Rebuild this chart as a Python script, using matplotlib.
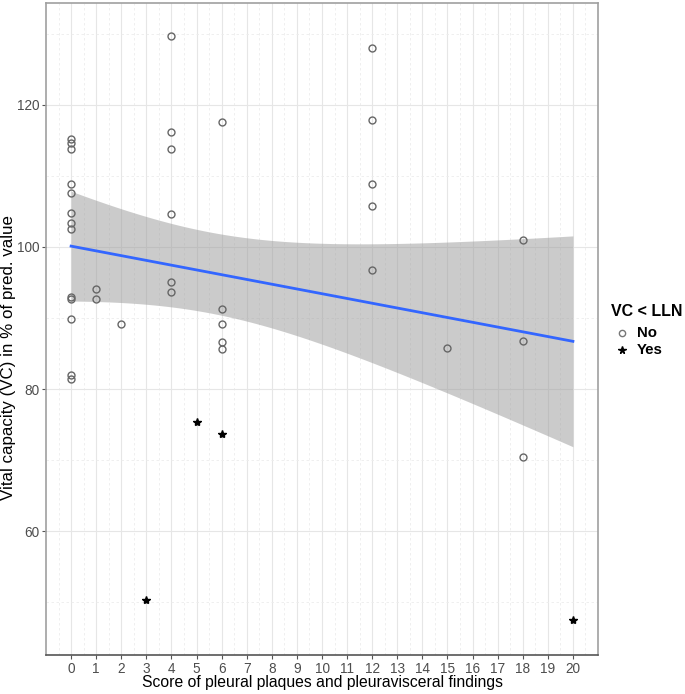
import numpy as np
import matplotlib.pyplot as plt
from matplotlib.lines import Line2D

plt.rcParams['font.family'] = ['Liberation Sans', 'DejaVu Sans']

# score vs vital capacity, VC < LLN = No
score_no = [0, 0, 0, 0, 0, 0, 0, 0, 0, 0, 0, 0, 0,
            1, 1, 2,
            4, 4, 4, 4, 4, 4,
            6, 6, 6, 6, 6,
            12, 12, 12, 12, 12,
            15, 18, 18, 18]
vc_no = [115.2, 114.6, 113.8, 108.8, 107.6, 104.7, 103.3, 102.5, 93.0, 92.7, 89.9, 82.0, 81.4,
         94.1, 92.6, 89.2,
         129.6, 116.1, 113.7, 104.6, 95.1, 93.6,
         117.6, 91.2, 89.2, 86.6, 85.6,
         128.0, 117.8, 108.8, 105.8, 96.7,
         85.8, 101.0, 86.7, 70.5]

# VC < LLN = Yes
score_yes = [3, 5, 6, 20]
vc_yes = [50.4, 75.3, 73.7, 47.5]

legend_labels = ['No', 'Yes']

x_all = np.array(score_no + score_yes, dtype=float)
y_all = np.array(vc_no + vc_yes, dtype=float)

# linear fit with 95% confidence band (like geom_smooth(method='lm'))
n = len(x_all)
b1, b0 = np.polyfit(x_all, y_all, 1)
resid = y_all - (b0 + b1 * x_all)
s = np.sqrt(np.sum(resid**2) / (n - 2))
xm = x_all.mean()
sxx = np.sum((x_all - xm)**2)
t_crit = 2.024
xg = np.linspace(x_all.min(), x_all.max(), 80)
yg = b0 + b1 * xg
se = s * np.sqrt(1.0 / n + (xg - xm)**2 / sxx)

W, H = 685, 694
fig = plt.figure(figsize=(W / 100, H / 100), dpi=100)
ax = fig.add_axes([46 / W, 1 - 655 / H, 552 / W, 652 / H])

ax.fill_between(xg, yg - t_crit * se, yg + t_crit * se, color='#999999', alpha=0.5, lw=0, zorder=2)
ax.plot(xg, yg, color='#3366FF', lw=2, zorder=3)

ax.plot(score_no, vc_no, 'o', ms=5, mfc='none', mec='#666666', mew=1.0, zorder=4)
ax.plot(score_yes, vc_yes, '*', ms=6, color='black', zorder=4)

ax.set_xlim(-1, 21)
ax.set_ylim(42.6, 134.3)
ax.set_xticks(range(0, 21))
ax.set_yticks([60, 80, 100, 120])
ax.set_xticks(np.arange(-0.5, 21, 1), minor=True)
ax.set_yticks([50, 70, 90, 110, 130], minor=True)
ax.grid(which='major', color='#e6e6e6', lw=0.8, zorder=0)
ax.grid(which='minor', color='#ececec', lw=0.6, ls=(0, (3, 3)), zorder=0)
ax.set_axisbelow(True)
for sp in ax.spines.values():
    sp.set_color('#a0a0a0')
    sp.set_linewidth(1.2)
ax.spines['bottom'].set_color('#555555')
ax.tick_params(which='major', colors='#555555', labelcolor='#4d4d4d', labelsize=9.8, length=3, pad=2)
ax.tick_params(which='minor', length=0)

fig.text(322 / W, 1 - 683 / H, 'Score of pleural plaques and pleuravisceral findings',
         fontsize=11.3, ha='center', va='center')
fig.text(9 / W, 1 - 358 / H, 'Vital capacity (VC) in % of pred. value',
         fontsize=12.2, ha='center', va='center', rotation=90)

# legend drawn by hand
fig.text(611 / W, 1 - 311 / H, 'VC < LLN', fontsize=11.5, fontweight='bold', ha='left', va='center')
fig.add_artist(Line2D([622 / W], [1 - 333 / H], marker='o', ls='none', ms=4.5,
                      mfc='none', mec='#777777', transform=fig.transFigure))
fig.add_artist(Line2D([622 / W], [1 - 350 / H], marker='*', ls='none', ms=5.5,
                      color='black', transform=fig.transFigure))
fig.text(637 / W, 1 - 333 / H, legend_labels[0], fontsize=10.8, fontweight='bold', ha='left', va='center')
fig.text(637 / W, 1 - 350 / H, legend_labels[1], fontsize=10.8, fontweight='bold', ha='left', va='center')

fig.savefig('out.png', dpi=100)
